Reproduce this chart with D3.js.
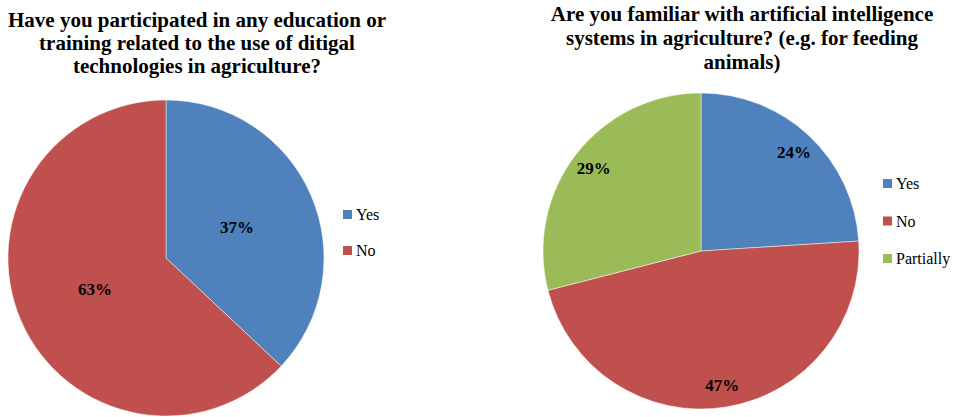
<!DOCTYPE html>
<html>
<head>
<meta charset="utf-8">
<script src="https://cdn.jsdelivr.net/npm/d3@7"></script>
</head>
<body style="margin:0">
<div id="chart"></div>
<script>
// ---- data ------------------------------------------------------------------
const LEFT_TITLE = [
  'Have you participated in any education or',
  'training related to the use of ditigal',
  'technologies in agriculture?'
];
const LEFT_CATS = ['Yes', 'No'];
const LEFT_VALUES = [37, 63];

const RIGHT_TITLE = [
  'Are you familiar with artificial intelligence',
  'systems in agriculture? (e.g. for feeding',
  'animals)'
];
const RIGHT_CATS = ['Yes', 'No', 'Partially'];
const RIGHT_VALUES = [24, 47, 29];

const COLORS = ['#4F81BD', '#C0504D', '#9BBB59'];
const FONT = "'Liberation Serif'";

const W = 963, H = 417;

const svg = d3.select('#chart').append('svg')
  .attr('width', W).attr('height', H)
  .style('font-family', FONT);

// one pie panel
function drawPie(cfg) {
  const g = svg.append('g');

  // title, one text per line
  g.selectAll('text.title')
    .data(cfg.title)
    .join('text')
    .attr('class', 'title')
    .attr('x', cfg.titleX)
    .attr('y', (d, i) => cfg.titleY + i * cfg.titleLH)
    .attr('text-anchor', 'middle')
    .attr('font-weight', 'bold')
    .attr('font-size', 21)
    .style('font-family', FONT)
    .text(d => d);

  const data = cfg.cats.map((c, i) => ({ cat: c, value: cfg.values[i] }));
  const pie = d3.pie().sort(null).value(d => d.value);
  const arcs = pie(data);
  const arc = d3.arc().innerRadius(0).outerRadius(cfg.r);
  const labelArc = d3.arc().innerRadius(cfg.r * cfg.labelK).outerRadius(cfg.r * cfg.labelK);
  const color = d3.scaleOrdinal().domain(cfg.cats).range(COLORS);

  const pg = g.append('g').attr('transform', `translate(${cfg.cx},${cfg.cy})`);
  pg.selectAll('path.slice')
    .data(arcs)
    .join('path')
    .attr('class', 'slice')
    .attr('d', arc)
    .attr('fill', d => color(d.data.cat))
    .attr('stroke', '#fff')
    .attr('stroke-width', 0.8)
    .attr('stroke-opacity', 0.6);

  const total = d3.sum(cfg.values);
  pg.selectAll('text.lbl')
    .data(arcs)
    .join('text')
    .attr('class', 'lbl')
    .attr('x', d => labelArc.centroid(d)[0])
    .attr('y', d => labelArc.centroid(d)[1] + 6)
    .attr('text-anchor', 'middle')
    .attr('font-weight', 'bold')
    .attr('font-size', 17)
    .style('font-family', FONT)
    .text(d => Math.round(d.data.value / total * 100) + '%');

  // legend
  const ly = d3.scaleLinear()
    .domain([0, 1])
    .range([cfg.legendY, cfg.legendY + cfg.legendStep]);
  g.selectAll('rect.key')
    .data(cfg.cats)
    .join('rect')
    .attr('class', 'key')
    .attr('x', cfg.legendX)
    .attr('y', (d, i) => ly(i) - 5)
    .attr('width', 9).attr('height', 9)
    .attr('fill', d => color(d));
  g.selectAll('text.key')
    .data(cfg.cats)
    .join('text')
    .attr('class', 'key')
    .attr('x', cfg.legendX + 13)
    .attr('y', (d, i) => ly(i) + 5)
    .attr('font-size', 16)
    .style('font-family', FONT)
    .text(d => d);
}

drawPie({
  title: LEFT_TITLE, cats: LEFT_CATS, values: LEFT_VALUES,
  titleX: 197, titleY: 27, titleLH: 23,
  cx: 166, cy: 258, r: 158, labelK: 0.49,
  legendX: 343, legendY: 215, legendStep: 36
});

drawPie({
  title: RIGHT_TITLE, cats: RIGHT_CATS, values: RIGHT_VALUES,
  titleX: 742, titleY: 21, titleLH: 24,
  cx: 701, cy: 251, r: 158, labelK: 0.86,
  legendX: 883, legendY: 184, legendStep: 37.5
});
</script>
</body>
</html>
